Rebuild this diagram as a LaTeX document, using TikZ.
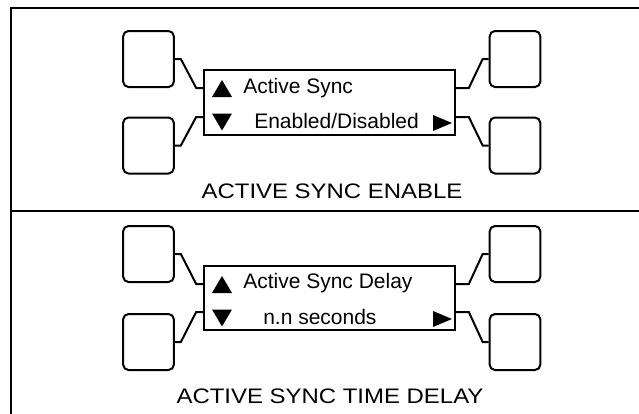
\documentclass[tikz,border=0pt]{standalone}
\usepackage{fontspec}
\usepackage{graphicx}
\setmainfont{Liberation Sans}
\usetikzlibrary{calc}

\newcommand{\widecap}[1]{\scalebox{1.14}[1]{#1}}

\tikzset{
  key/.style={draw, line width=1.5pt, rounded corners=4pt, minimum width=38pt, minimum height=42pt, inner sep=0pt},
  lcd/.style={draw, line width=1.5pt, minimum width=188pt, minimum height=48.5pt, inner sep=0pt},
  wire/.style={line width=1.5pt},
  lcdtext/.style={anchor=base west, inner sep=0pt, font=\fontsize{15.75}{18}\selectfont},
  caption/.style={anchor=base, inner sep=0pt, font=\fontsize{15.75}{18}\selectfont},
  uptri/.pic={\fill (-10,-8.5) -- (10,-8.5) -- (0,8.5) -- cycle;},
  downtri/.pic={\fill (-10,8.5) -- (10,8.5) -- (0,-8.5) -- cycle;},
  righttri/.pic={\fill (-9.5,-8) -- (-9.5,8) -- (9.5,0) -- cycle;}
}

\begin{document}
\begin{tikzpicture}[x=0.75pt,y=0.75pt,yscale=-1,xscale=1]
\useasboundingbox (0,0) rectangle (639,414);

%Frame
\draw [line width=1.3pt] (11,414) -- (11,8) -- (639,8);
\draw [line width=0.8pt] (11,211) -- (639,211);

%Panel: active sync enable
\node [lcd] (dA) at (329.5,102.5) {};
\node [key] (bA1) at (148.5,59) {};
\node [key] (bA2) at (148.5,145.5) {};
\node [key] (bA3) at (515,59) {};
\node [key] (bA4) at (515,145.5) {};
\draw [wire] (bA1.east) -- ++(6,0) -- ($(dA.west)+(-7,-14.5)$) -- ($(dA.west)+(0,-14.5)$);
\draw [wire] (bA2.east) -- ++(6,0) -- ($(dA.west)+(-7,14.5)$) -- ($(dA.west)+(0,14.5)$);
\draw [wire] ($(dA.east)+(0,-14.5)$) -- ++(13,0) -- ($(bA3.west)+(-6,0)$) -- (bA3.west);
\draw [wire] ($(dA.east)+(0,14.5)$) -- ++(13,0) -- ($(bA4.west)+(-6,0)$) -- (bA4.west);
\pic at (222,88.5) {uptri};
\pic at (222,122) {downtri};
\pic at (442.5,123) {righttri};
% Text Node
\node [lcdtext] (tA1) at (243,93) {Active Sync};
% Text Node
\node [lcdtext] (tA2) at (254,128) {Enabled/Disabled};
% Text Node
\node [caption] (capA) at (332,198) {\widecap{ACTIVE SYNC ENABLE}};

%Panel: active sync time delay
\node [lcd] (dB) at (329.5,298) {};
\node [key] (bB1) at (148.5,254) {};
\node [key] (bB2) at (148.5,342) {};
\node [key] (bB3) at (515,254) {};
\node [key] (bB4) at (515,342) {};
\draw [wire] (bB1.east) -- ++(6,0) -- ($(dB.west)+(-7,-14)$) -- ($(dB.west)+(0,-14)$);
\draw [wire] (bB2.east) -- ++(6,0) -- ($(dB.west)+(-7,14)$) -- ($(dB.west)+(0,14)$);
\draw [wire] ($(dB.east)+(0,-14)$) -- ++(13,0) -- ($(bB3.west)+(-6,0)$) -- (bB3.west);
\draw [wire] ($(dB.east)+(0,14)$) -- ++(13,0) -- ($(bB4.west)+(-6,0)$) -- (bB4.west);
\pic at (222,284.5) {uptri};
\pic at (222,318) {downtri};
\pic at (442.5,319) {righttri};
% Text Node
\node [lcdtext] (tB1) at (243,288) {Active Sync Delay};
% Text Node
\node [lcdtext] (tB2) at (263,324) {n.n seconds};
% Text Node
\node [caption] (capB) at (330,403) {\widecap{ACTIVE SYNC TIME DELAY}};

\end{tikzpicture}
\end{document}
